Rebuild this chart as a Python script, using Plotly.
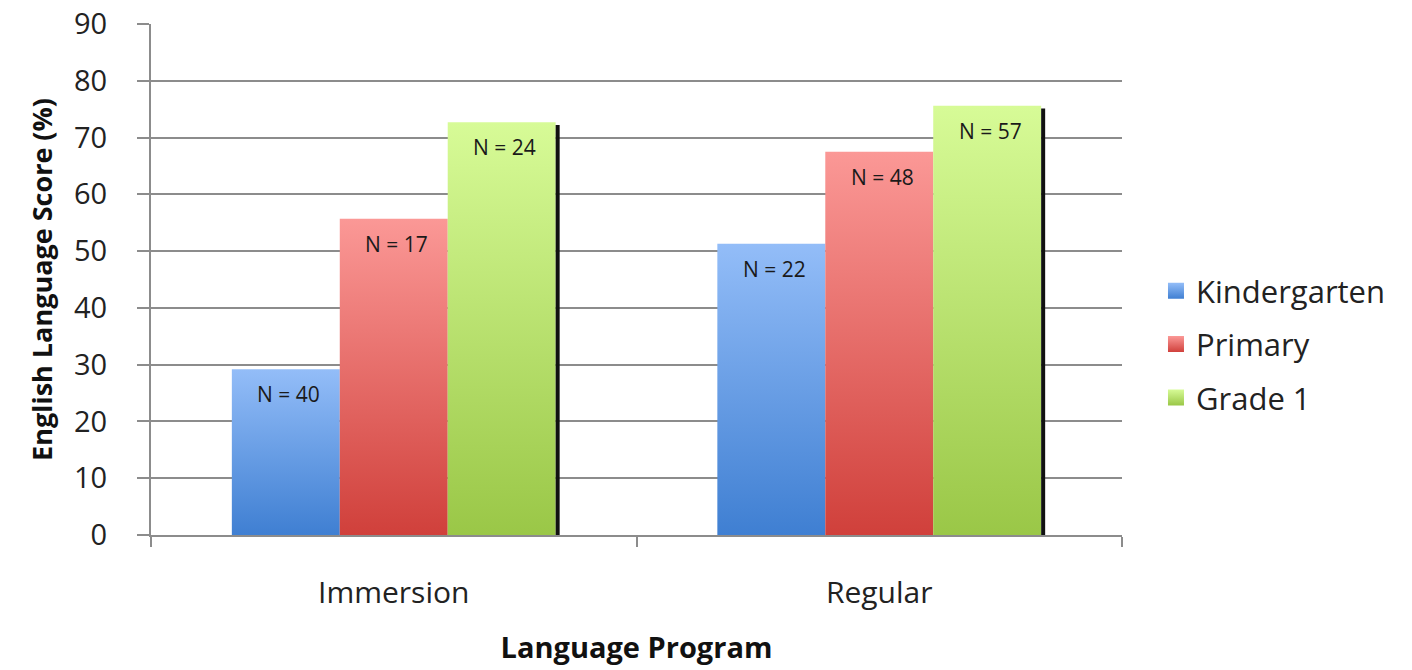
import plotly.graph_objects as go

programs = ["Immersion", "Regular"]
series = ["Kindergarten", "Primary", "Grade 1"]
kindergarten = [29.2, 51.3]
primary = [55.7, 67.5]
grade1 = [72.7, 75.6]
n_kindergarten = [40, 22]
n_primary = [17, 48]
n_grade1 = [24, 57]
y_ticks = [0, 10, 20, 30, 40, 50, 60, 70, 80, 90]

values = [kindergarten, primary, grade1]
counts = [n_kindergarten, n_primary, n_grade1]
light = ["#93bdf8", "#fb9896", "#d7fb97"]
dark = ["#3f7fd2", "#d0403b", "#9ac747"]

group_width = 0.667
bar_w = group_width / len(series)

fig = go.Figure()
annotations = []
shapes = []
for si, name in enumerate(series):
    for ci, prog in enumerate(programs):
        v = values[si][ci]
        x0 = ci - group_width / 2 + si * bar_w
        x1 = x0 + bar_w
        fig.add_trace(go.Scatter(
            x=[x0, x1, x1, x0, x0], y=[0, 0, v, v, 0],
            fill="toself", mode="lines", line=dict(width=0, color=dark[si]),
            fillgradient=dict(type="vertical", start=0, stop=v,
                              colorscale=[[0, dark[si]], [1, light[si]]]),
            showlegend=False, hoverinfo="skip", name=name,
        ))
        annotations.append(dict(
            x=(x0 + x1) / 2, y=v, xref="x", yref="y", text=f"N = {counts[si][ci]}",
            showarrow=False, yanchor="top", yshift=-9, xshift=3,
            font=dict(family="Open Sans", size=21, color="#1a1a1a"),
        ))
        if si == len(series) - 1:
            shapes.append(dict(
                type="rect", xref="x", yref="y", xsizemode="pixel", xanchor=x1,
                x0=0, x1=4, y0=0, y1=v - 0.5, fillcolor="#111111",
                line=dict(width=0), layer="above",
            ))

for si, name in enumerate(series):
    fig.add_trace(go.Scatter(
        x=[None], y=[None], mode="markers", name=name, legendgroup=name,
        marker=dict(symbol="square", size=16, color=light[si],
                    gradient=dict(type="vertical", color=dark[si])),
    ))

fig.update_layout(
    width=1412, height=670,
    margin=dict(l=151, r=290, t=24, b=135, autoexpand=False),
    plot_bgcolor="white", paper_bgcolor="white",
    font=dict(family="Open Sans", color="#222222"),
    showlegend=True,
    legend=dict(x=1.035, y=0.53, xanchor="left", yanchor="top",
                font=dict(size=31, color="#222222"), itemwidth=30,
                tracegroupgap=10),
    annotations=annotations, shapes=shapes,
    xaxis=dict(
        range=[-0.5, 1.5], tickmode="array", tickvals=[0, 1], ticktext=programs,
        ticks="", showgrid=False, zeroline=False, automargin=False,
        showline=True, linecolor="#8c8c8c", linewidth=2,
        tickfont=dict(size=30, color="#222222"), ticklabelstandoff=30,
        minor=dict(ticks="outside", tickmode="linear", tick0=-0.5, dtick=1,
                   ticklen=10, tickwidth=2, tickcolor="#8c8c8c", showgrid=False),
        title=dict(text="<b>Language Program</b>", font=dict(size=29, color="#111111"),
                   standoff=27),
    ),
    yaxis=dict(
        range=[0, 90], tickmode="array", tickvals=y_ticks, automargin=False,
        showgrid=True, gridcolor="#8c8c8c", gridwidth=1.5, zeroline=False,
        showline=True, linecolor="#8c8c8c", linewidth=2,
        ticks="outside", ticklen=12, tickwidth=2, tickcolor="#8c8c8c",
        tickfont=dict(size=29, color="#222222"), ticklabelstandoff=24,
        title=dict(text="<b>English Language Score (%)</b>",
                   font=dict(size=27, color="#111111"), standoff=14),
    ),
)

fig.write_html("out.html")
